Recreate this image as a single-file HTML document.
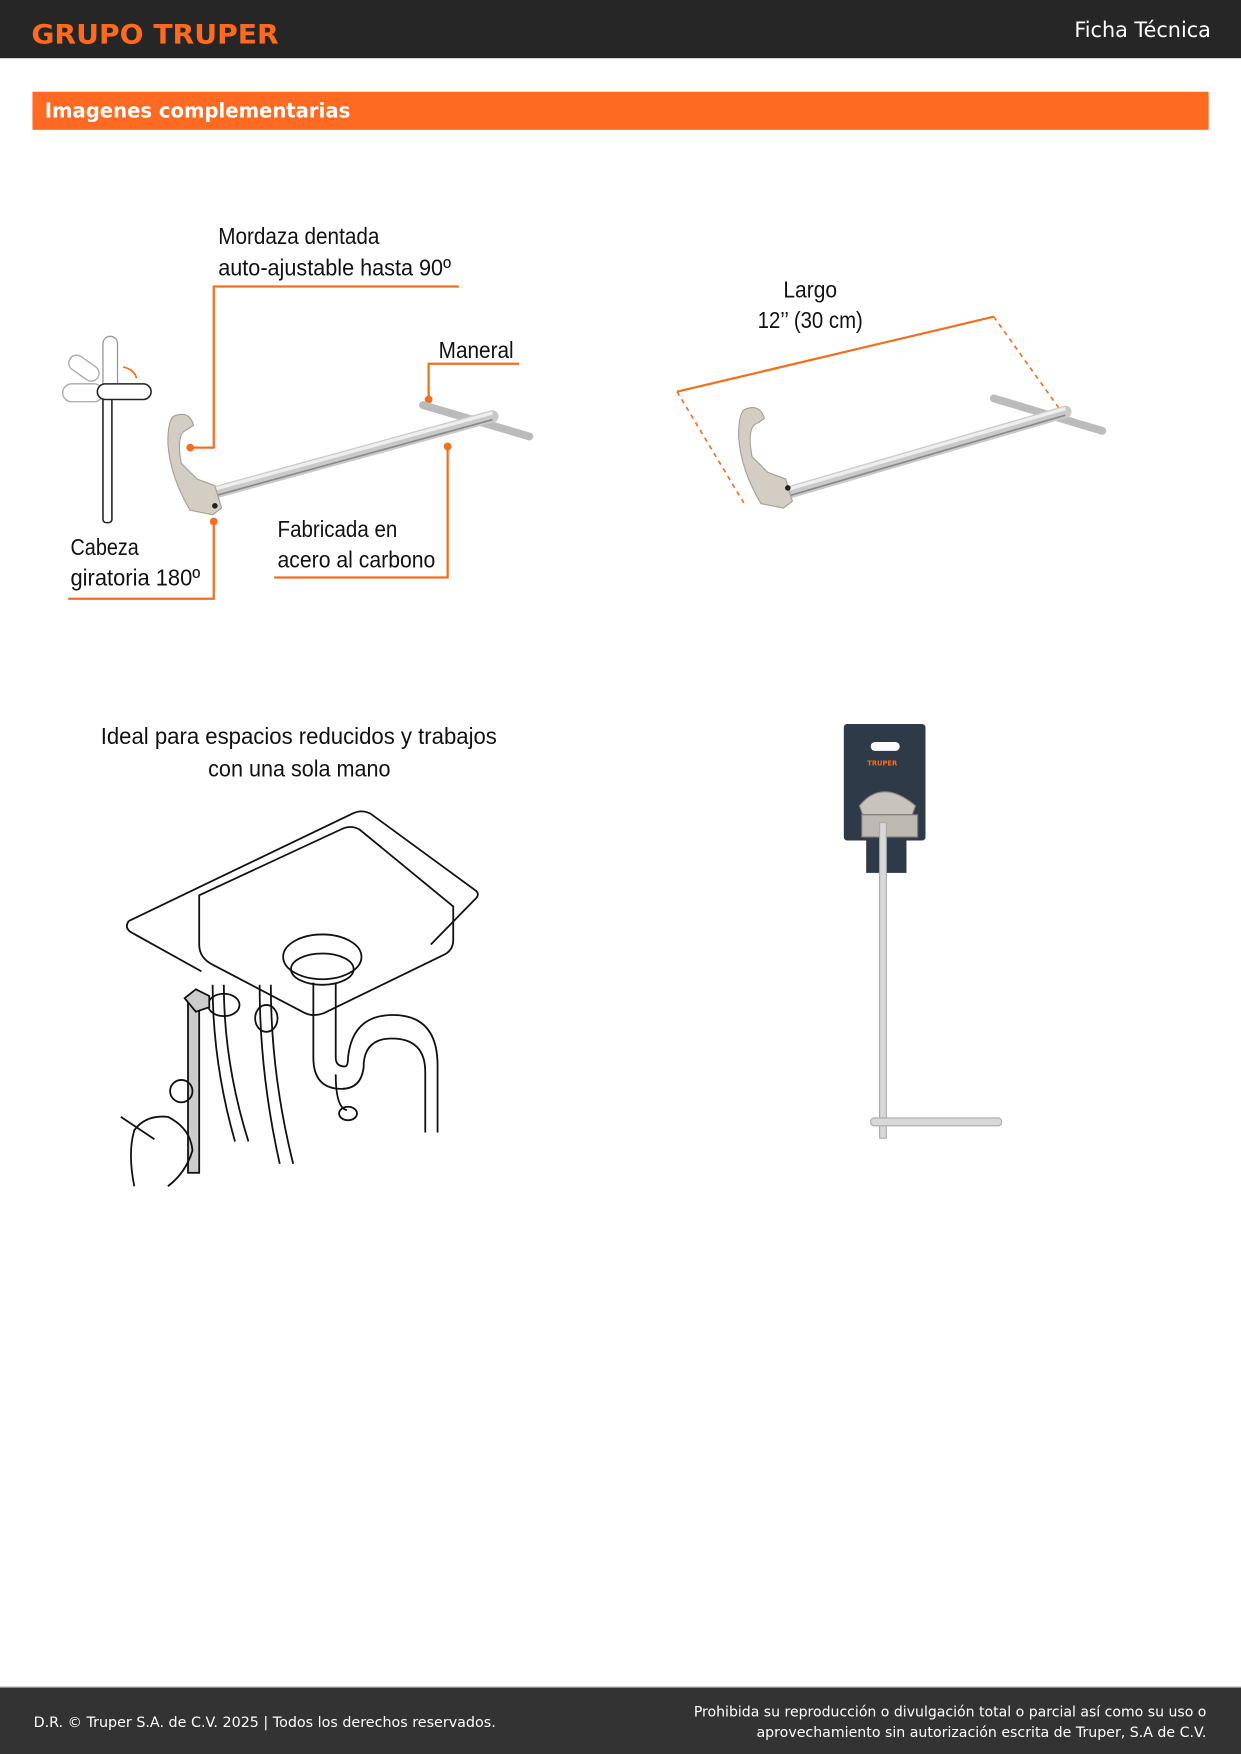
<!DOCTYPE html>
<html><head><meta charset="utf-8"><style>
html,body{margin:0;padding:0;background:#fff}
svg{display:block}
.n{font-family:"Liberation Sans",sans-serif;}
.s{font-family:"DejaVu Sans","Liberation Sans",sans-serif;}
</style></head><body>
<svg width="1241" height="1754" viewBox="0 0 1241 1754" xmlns="http://www.w3.org/2000/svg">
<g transform="scale(1.1191)">
<!-- header -->
<rect x="0" y="0" width="1109" height="52" fill="#262626"/>
<text x="28" y="39" class="s" font-size="24" font-weight="bold" fill="#ff6a1f" textLength="221" lengthAdjust="spacingAndGlyphs">GRUPO TRUPER</text>
<text x="960" y="33" class="s" font-size="19" fill="#fff" textLength="122" lengthAdjust="spacingAndGlyphs">Ficha Técnica</text>
<!-- section bar -->
<rect x="29" y="82" width="1051" height="34" fill="#ff6a22"/>
<text x="40" y="105" class="s" font-size="18" font-weight="bold" fill="#fff" textLength="273" lengthAdjust="spacingAndGlyphs">Imagenes complementarias</text>

<g class="n" font-size="21" fill="#111" lengthAdjust="spacingAndGlyphs">
<text x="195" y="218" textLength="144" lengthAdjust="spacingAndGlyphs">Mordaza dentada</text>
<text x="195" y="246" textLength="208" lengthAdjust="spacingAndGlyphs">auto-ajustable hasta 90º</text>
<text x="392" y="320" textLength="67" lengthAdjust="spacingAndGlyphs">Maneral</text>
<text x="248" y="480" textLength="107" lengthAdjust="spacingAndGlyphs">Fabricada en</text>
<text x="248" y="507" textLength="141" lengthAdjust="spacingAndGlyphs">acero al carbono</text>
<text x="63" y="496" textLength="61" lengthAdjust="spacingAndGlyphs">Cabeza</text>
<text x="63" y="523" textLength="116" lengthAdjust="spacingAndGlyphs">giratoria 180º</text>
<text x="700" y="266" textLength="48" lengthAdjust="spacingAndGlyphs">Largo</text>
<text x="677" y="293" textLength="94" lengthAdjust="spacingAndGlyphs">12’’ (30 cm)</text>
</g>
<g stroke="#f07020" stroke-width="2" fill="none">
<polyline points="410,256 191,256 191,400 172,400"/>
<polyline points="464,325 383,325 383,357"/>
<polyline points="245,516 400,516 400,399"/>
<polyline points="61,535 191,535 191,466"/>
<line x1="605" y1="350" x2="888" y2="283"/>
<line x1="605" y1="350" x2="665" y2="450" stroke-dasharray="4,4" stroke-width="1.5"/>
<line x1="888" y1="283" x2="950" y2="370" stroke-dasharray="4,4" stroke-width="1.5"/>
</g>
<g fill="#f07020">
<circle cx="170" cy="400" r="3.5"/><circle cx="383" cy="357" r="3.5"/>
<circle cx="400" cy="399" r="3.5"/><circle cx="191" cy="466" r="3.5"/>
</g>

<!-- small rotation icon -->
<g fill="none">
<path d="M92,307 a5,5 0 0 1 13,0 V355 H92 Z" stroke="#999" stroke-width="1.2"/>
<rect x="92" y="355" width="8" height="112" rx="3" fill="#fff" stroke="#222" stroke-width="1.4"/>
<rect x="56" y="343" width="36" height="16" rx="8" stroke="#aaa" stroke-width="1.2"/>
<rect x="87" y="343" width="48" height="14" rx="7" fill="#fff" stroke="#222" stroke-width="1.4"/>
<rect x="60" y="322" width="30" height="14" rx="7" transform="rotate(35 75 329)" stroke="#aaa" stroke-width="1.2"/>
<path d="M110,328 q10,2 12,10" stroke="#f07020" stroke-width="1.5"/>
</g>

<!-- wrench 1 -->
<g>
<line x1="378" y1="362" x2="473" y2="390" stroke="#bbb" stroke-width="7" stroke-linecap="round"/>
<line x1="192" y1="440" x2="440" y2="372" stroke="#c9c9c9" stroke-width="11" stroke-linecap="round"/>
<line x1="192" y1="437" x2="440" y2="369" stroke="#eee" stroke-width="3"/>
<line x1="192" y1="443" x2="440" y2="375" stroke="#8a8a8a" stroke-width="1.5"/>
<path d="M155,372 q14,-6 18,8 l-6,4 q-10,3 -5,30 l14,14 l16,6 l6,20 l-8,6 l-20,-4 q-18,-30 -20,-60 q0,-20 5,-24z" fill="#d4cdc3" stroke="#a79f94" stroke-width="1"/>
<circle cx="192" cy="452" r="2.5" fill="#222"/>
</g>

<!-- wrench 2 -->
<g>
<line x1="888" y1="356" x2="985" y2="385" stroke="#bbb" stroke-width="7" stroke-linecap="round"/>
<line x1="705" y1="440" x2="952" y2="368" stroke="#c9c9c9" stroke-width="11" stroke-linecap="round"/>
<line x1="705" y1="437" x2="952" y2="365" stroke="#eee" stroke-width="3"/>
<line x1="705" y1="443" x2="952" y2="371" stroke="#8a8a8a" stroke-width="1.5"/>
<path d="M665,366 q14,-6 18,8 l-6,4 q-10,3 -5,30 l14,14 l16,6 l6,20 l-8,6 l-20,-4 q-18,-30 -20,-60 q0,-20 5,-24z" fill="#d4cdc3" stroke="#a79f94" stroke-width="1"/>
<circle cx="704" cy="436" r="2.5" fill="#222"/>
</g>

<!-- fig 3 caption -->
<g class="n" font-size="21" fill="#111">
<text x="90" y="665" textLength="354" lengthAdjust="spacingAndGlyphs">Ideal para espacios reducidos y trabajos</text>
<text x="186" y="694" textLength="163" lengthAdjust="spacingAndGlyphs">con una sola mano</text>
</g>
<!-- sink drawing -->
<g fill="none" stroke="#111" stroke-width="1.6">
<path d="M115,823 L315,727 q8,-4 16,0 L424,795 q6,4 0,9 L385,844 M115,823 q-4,6 2,10 L180,868"/>
<path d="M178,800 L305,741 q8,-4 16,0 L405,810 V840 q0,10 -10,14 L290,905 q-10,4 -18,0 L190,862 q-12,-6 -12,-18 Z"/>
<ellipse cx="288" cy="855" rx="35" ry="20"/><ellipse cx="288" cy="866" rx="28" ry="14"/>
<path d="M280,878 V945 q0,28 25,28 q18,0 20,-20 V950 q2,-22 25,-22 q30,0 30,30 V1012 M300,878 V945 q0,8 8,8 q3,0 3,-8 q4,-38 40,-38 q40,0 40,45 V1012"/>
<ellipse cx="311" cy="995" rx="8" ry="6"/>
<path d="M300,960 q0,30 10,32"/>
<path d="M190,880 q0,70 20,140 M200,880 q0,70 22,140"/>
<path d="M232,880 q0,80 18,160 M242,880 q0,80 20,160"/>
<ellipse cx="200" cy="898" rx="14" ry="10"/><ellipse cx="238" cy="910" rx="10" ry="12"/>
<rect x="168" y="890" width="10" height="158" fill="#ccc"/>
<path d="M165,892 l10,-8 l12,6 v10 l-12,4z" fill="#ccc"/>
<circle cx="162" cy="975" r="10"/>
<path d="M108,998 l30,20 M120,1060 q-6,-30 0,-50 q10,-14 30,-12 q20,10 22,30 q-6,20 -22,32"/>
</g>

<!-- package -->
<rect x="754" y="647" width="73" height="104" rx="3" fill="#2e3a48"/>
<rect x="774" y="740" width="36" height="40" fill="#2e3a48"/>
<rect x="778" y="663" width="26" height="8" rx="4" fill="#fff"/>
<text x="775" y="684" class="s" font-size="6" fill="#ff6a1f" font-weight="bold">TRUPER</text>
<path d="M768,720 q20,-25 50,0 l-5,14 h-40z" fill="#c8c3bc" stroke="#888" stroke-width="1"/>
<rect x="770" y="728" width="50" height="20" fill="#bdb8b2" stroke="#777" stroke-width="1"/>
<rect x="786" y="735" width="6" height="282" fill="#d8d8d8" stroke="#aaa" stroke-width="1"/>
<rect x="778" y="999" width="117" height="7" rx="3" fill="#d8d8d8" stroke="#aaa" stroke-width="1"/>

<!-- footer -->
<rect x="0" y="1508" width="1109" height="60" fill="#333"/>
<rect x="0" y="1507" width="1109" height="1" fill="#aaa"/>
<text x="30" y="1543" class="s" font-size="13" fill="#fff" textLength="413" lengthAdjust="spacingAndGlyphs">D.R. © Truper S.A. de C.V. 2025 | Todos los derechos reservados.</text>
<text x="620" y="1534" class="s" font-size="13" fill="#fff" textLength="458" lengthAdjust="spacingAndGlyphs">Prohibida su reproducción o divulgación total o parcial así como su uso o</text>
<text x="676" y="1552" class="s" font-size="13" fill="#fff" textLength="402" lengthAdjust="spacingAndGlyphs">aprovechamiento sin autorización escrita de Truper, S.A de C.V.</text>
</g>
</svg>
</body></html>
